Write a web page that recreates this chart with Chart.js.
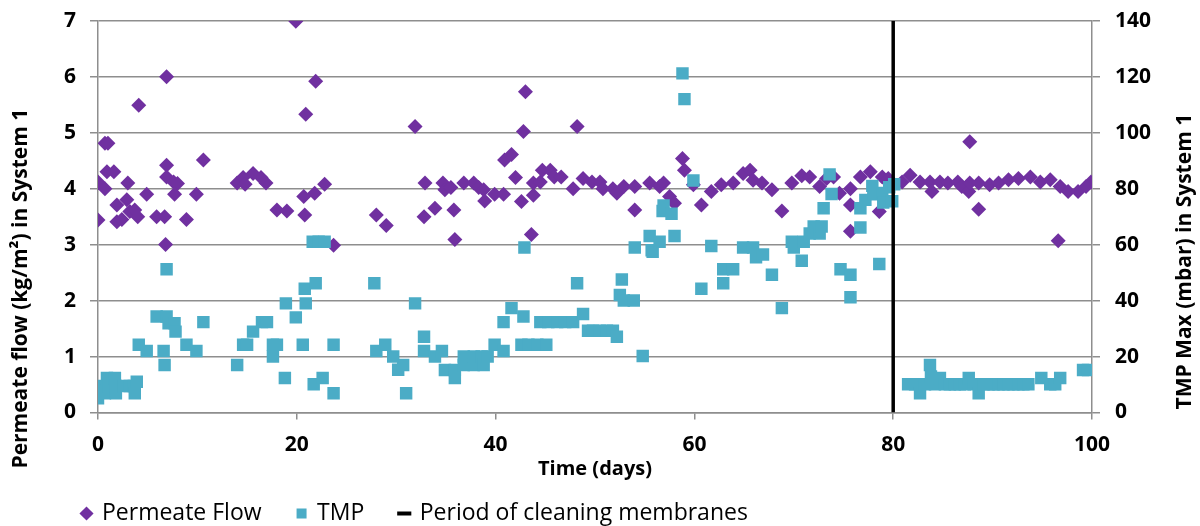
<!DOCTYPE html>
<html>
<head>
<meta charset="utf-8">
<script src="https://cdn.jsdelivr.net/npm/chart.js@4.4.1/dist/chart.umd.min.js"></script>
<style>
  html, body { margin: 0; padding: 0; background: #fff; }
  #wrap { width: 1200px; height: 526px; position: relative; }
</style>
</head>
<body>
<div id="wrap"><canvas id="chart"></canvas></div>
<script>

// Permeate flow (kg/m2), one entry per measurement day
const flowDays = [
  0.0, 0.0, 0.7, 0.7, 1.0, 0.9, 1.6, 1.9, 1.9, 2.4, 2.9, 3.0, 3.2, 3.7, 4.0, 4.1, 4.9, 5.9, 6.7, 6.8,
  6.9, 6.9, 6.9, 7.6, 8.0, 7.7, 8.9, 9.9, 10.6, 14.0, 14.6, 14.8, 15.6, 16.4, 16.9, 18.0, 19.0, 19.9,
  20.7, 20.8, 20.9, 21.8, 21.9, 22.8, 23.7, 28.0, 29.0, 31.9, 32.9, 32.8, 33.9, 34.7, 34.9, 35.5,
  35.8, 35.9, 36.8, 37.8, 38.3, 38.8, 38.9, 39.9, 40.8, 40.9, 41.6, 42.0, 42.6, 42.8, 43.0, 43.6,
  43.8, 43.8, 44.5, 44.7, 45.5, 45.9, 46.6, 47.8, 48.2, 48.8, 49.7, 50.5, 50.8, 51.8, 52.2, 52.9,
  54.0, 54.0, 55.5, 56.5, 56.9, 57.5, 58.0, 58.8, 59.0, 59.9, 60.7, 61.7, 62.7, 63.9, 64.9, 65.6,
  65.9, 66.8, 67.8, 68.8, 69.8, 70.8, 71.6, 72.6, 73.3, 74.0, 74.6, 75.7, 75.7, 75.7, 76.7, 77.7,
  78.6, 78.9, 79.5, 80.9, 81.7, 82.7, 83.7, 83.9, 84.7, 85.5, 86.5, 86.9, 87.6, 87.7, 87.7, 88.6,
  88.6, 89.7, 90.6, 91.6, 92.6, 93.8, 94.8, 95.8, 96.6, 96.8, 97.6, 98.6, 99.4, 99.9
];
const flowValues = [
  3.44, 4.12, 4.00, 4.81, 4.81, 4.30, 4.30, 3.71, 3.41, 3.45, 3.80, 4.10, 3.59, 3.62, 3.50, 5.49, 3.90, 3.50, 3.50, 3.00,
  6.00, 4.42, 4.21, 4.12, 4.09, 3.90, 3.45, 3.90, 4.51, 4.10, 4.20, 4.08, 4.27, 4.20, 4.10, 3.62, 3.60, 6.99,
  3.86, 3.53, 5.33, 3.92, 5.92, 4.08, 2.99, 3.53, 3.34, 5.11, 4.10, 3.50, 3.65, 4.10, 3.98, 4.02,
  3.62, 3.09, 4.10, 4.10, 4.02, 3.98, 3.78, 3.90, 3.90, 4.51, 4.61, 4.20, 3.77, 5.02, 5.73, 3.18,
  4.10, 3.88, 4.12, 4.33, 4.33, 4.21, 4.21, 4.00, 5.11, 4.18, 4.12, 4.12, 4.00, 4.00, 3.92, 4.04,
  4.04, 3.62, 4.10, 4.04, 4.10, 3.86, 3.74, 4.54, 4.33, 4.07, 3.71, 3.95, 4.07, 4.10, 4.27, 4.33,
  4.15, 4.10, 3.98, 3.60, 4.10, 4.23, 4.21, 4.04, 4.18, 4.21, 3.92, 4.00, 3.71, 3.24, 4.21, 4.30,
  3.59, 4.21, 4.18, 4.12, 4.24, 4.12, 4.12, 3.95, 4.12, 4.10, 4.12, 4.04, 3.95, 4.84, 4.10, 4.10,
  3.63, 4.07, 4.10, 4.16, 4.18, 4.21, 4.12, 4.16, 3.07, 4.04, 3.95, 3.95, 4.04, 4.12
];

// TMP Max (mbar)
const tmpDays = [
  0.0, 0.5, 0.7, 0.9, 1.1, 1.7, 1.8, 1.8, 2.6, 3.2, 3.6, 3.7, 3.9, 4.1, 4.9, 5.9, 6.6, 6.7, 6.9, 6.9,
  7.1, 7.7, 7.8, 8.9, 9.9, 10.6, 14.0, 14.6, 15.0, 15.6, 16.5, 17.0, 17.6, 18.0, 17.6, 18.8, 18.9, 19.9,
  20.6, 20.8, 20.9, 21.7, 21.9, 21.6, 22.2, 22.8, 22.6, 23.7, 23.7, 27.8, 28.0, 28.9, 29.7, 30.2, 30.7,
  31.0, 31.9, 32.8, 32.8, 33.9, 34.6, 34.9, 35.9, 35.9, 36.8, 36.8, 37.8, 37.8, 38.6, 38.8, 39.2, 39.9,
  40.8, 40.8, 41.6, 42.6, 42.8, 42.9, 43.3, 44.2, 45.1, 44.5, 45.3, 46.2, 47.0, 47.8, 48.2, 48.8, 49.3,
  49.8, 50.5, 51.2, 51.8, 52.2, 52.5, 52.7, 52.9, 53.9, 54.0, 54.8, 55.5, 55.7, 55.8, 56.5, 56.8, 56.9,
  57.7, 58.0, 58.8, 59.0, 59.9, 60.7, 61.7, 62.9, 62.9, 63.9, 64.9, 65.9, 66.2, 66.9, 67.8, 68.8, 69.8,
  70.0, 70.8, 71.0, 71.6, 72.0, 72.6, 72.8, 73.0, 73.6, 73.8, 74.7, 75.7, 75.7, 76.7, 76.7, 77.2, 77.9,
  78.0, 78.6, 78.9, 79.0, 79.6, 79.9, 80.1, 81.5, 82.2, 82.7, 83.2, 83.7, 83.8, 84.2, 84.7, 85.2, 85.7,
  86.2, 86.7, 87.2, 87.6, 88.1, 88.6, 89.1, 89.6, 90.1, 90.6, 91.1, 91.6, 92.1, 92.6, 93.1, 93.6, 94.9,
  95.8, 96.3, 96.8, 99.1, 99.6
];
const tmpValues = [
  5.1, 9.5, 6.9, 12.3, 9.5, 12.3, 9.5, 6.9, 9.5, 9.5, 9.5, 6.9, 11.0, 24.2, 22.0, 34.3, 22.0, 17.0, 51.2, 34.3,
  31.9, 31.9, 28.9, 24.2, 22.0, 32.3, 17.0, 24.2, 24.2, 28.9, 32.3, 32.3, 24.2, 24.2, 20.0, 12.3, 39.0, 34.0,
  24.2, 44.2, 39.0, 10.1, 46.2, 61.0, 61.0, 61.0, 12.3, 24.2, 6.9, 46.2, 22.0, 24.2, 20.0, 15.3, 17.0,
  6.9, 39.0, 27.1, 22.0, 20.0, 22.0, 15.2, 15.2, 12.3, 20.0, 17.0, 20.0, 17.0, 20.0, 17.0, 20.0, 24.2,
  22.0, 32.3, 37.3, 24.2, 34.3, 59.0, 24.2, 24.2, 24.2, 32.3, 32.3, 32.3, 32.3, 32.3, 46.2, 35.2, 29.2,
  29.2, 29.2, 29.2, 29.2, 27.1, 42.0, 47.5, 40.0, 40.0, 59.0, 20.2, 63.1, 58.0, 57.4, 61.0, 72.0, 74.0,
  71.0, 63.1, 121.2, 112.0, 82.9, 44.2, 59.5, 51.2, 46.2, 51.2, 59.0, 59.0, 55.5, 56.5, 49.2, 37.3, 61.0,
  59.0, 54.2, 61.0, 64.0, 66.5, 64.0, 66.5, 73.0, 85.1, 78.1, 51.2, 49.2, 41.2, 73.0, 66.1, 76.0, 81.0,
  78.0, 53.1, 78.5, 75.0, 80.5, 75.5, 81.6, 10.1, 10.1, 6.9, 10.1, 17.0, 12.9, 10.1, 12.3, 10.1, 10.1,
  10.1, 10.1, 10.1, 12.3, 10.1, 6.9, 10.1, 10.1, 10.1, 10.1, 10.1, 10.1, 10.1, 10.1, 10.1, 10.1, 12.3,
  10.1, 10.1, 12.3, 15.2, 15.2
];

// membrane cleaning marker: day and the flow range it spans
const cleaningDays = [80, 80];
const cleaningSpan = [0, 7];

const xTicks = [0, 20, 40, 60, 80, 100];
const flowTicks = [0, 1, 2, 3, 4, 5, 6, 7];
const tmpTicks = [0, 20, 40, 60, 80, 100, 120, 140];

const leftTitle = 'Permeate flow (kg/m\u00B2) in System 1';
const rightTitle = 'TMP Max (mbar) in System 1';
const bottomTitle = 'Time (days)';

const FONT = '"Open Sans", "DejaVu Sans", sans-serif';
const GRID = '#8e8e8e';

const toPoints = (xs, ys) => xs.map((x, i) => ({ x: x, y: ys[i] }));

// axis titles drawn by hand so they can sit where the layout wants them
const axisTitles = {
  id: 'axisTitles',
  afterDraw(chart) {
    const { ctx, chartArea } = chart;
    const mid = (chartArea.top + chartArea.bottom) / 2;
    ctx.save();
    ctx.fillStyle = '#000';
    ctx.textAlign = 'center';
    ctx.textBaseline = 'middle';
    ctx.font = 'bold 21px ' + FONT;

    ctx.save();
    ctx.translate(21, mid + 72);
    ctx.rotate(-Math.PI / 2);
    ctx.fillText(leftTitle, 0, 0);
    ctx.restore();

    ctx.save();
    ctx.translate(1185, mid + 45);
    ctx.rotate(-Math.PI / 2);
    ctx.fillText(rightTitle, 0, 0);
    ctx.restore();

    ctx.font = 'bold 20px ' + FONT;
    ctx.fillText(bottomTitle, (chartArea.left + chartArea.right) / 2, chartArea.bottom + 57);
    ctx.restore();
  }
};

const tickFont = { family: FONT, size: 21, weight: 'bold' };
const sideTickFont = { family: FONT, size: 21, weight: 'bold', lineHeight: 0.55 };

const canvas = document.getElementById('chart');

new Chart(canvas, {
  type: 'scatter',
  data: {
    datasets: [
      {
        label: 'Permeate Flow',
        data: toPoints(flowDays, flowValues),
        yAxisID: 'y',
        pointStyle: 'rectRot',
        pointRadius: 7.5,
        pointHoverRadius: 7.5,
        pointBorderWidth: 0,
        backgroundColor: '#7030A0',
        borderColor: '#7030A0',
        order: 3
      },
      {
        label: 'TMP',
        data: toPoints(tmpDays, tmpValues),
        yAxisID: 'y1',
        pointStyle: 'rect',
        pointRadius: 8.8,
        pointHoverRadius: 8.8,
        pointBorderWidth: 0,
        backgroundColor: '#4BACC6',
        borderColor: '#4BACC6',
        order: 2
      },
      {
        label: 'Period of cleaning membranes',
        data: toPoints(cleaningDays, cleaningSpan),
        yAxisID: 'y',
        showLine: true,
        borderColor: '#000',
        backgroundColor: '#000',
        borderWidth: 3.5,
        pointRadius: 0,
        pointStyle: 'line',
        pointBorderWidth: 4,
        pointBorderColor: '#000',
        order: 1
      }
    ]
  },
  options: {
    responsive: true,
    maintainAspectRatio: false,
    animation: false,
    layout: {
      padding: { left: 46.5, right: 0, top: 0, bottom: -9 }
    },
    scales: {
      x: {
        type: 'linear',
        min: 0,
        max: 100,
        afterBuildTicks: (axis) => { axis.ticks = xTicks.map(v => ({ value: v })); },
        afterFit: (axis) => { axis.height = 53.5; },
        ticks: {
          color: '#000',
          font: tickFont,
          padding: 13
        },
        grid: {
          drawOnChartArea: false,
          drawTicks: true,
          tickLength: 7,
          color: GRID,
          lineWidth: 1.5
        },
        border: { color: GRID, width: 1.5 }
      },
      y: {
        position: 'left',
        min: 0,
        max: 7,
        afterBuildTicks: (axis) => { axis.ticks = flowTicks.map(v => ({ value: v })); },
        afterFit: (axis) => { axis.width = 51.5; },
        ticks: {
          color: '#000',
          font: sideTickFont,
          padding: 14
        },
        grid: {
          color: GRID,
          lineWidth: 1.5,
          tickLength: 8
        },
        border: { color: GRID, width: 1.5 }
      },
      y1: {
        position: 'right',
        min: 0,
        max: 140,
        afterBuildTicks: (axis) => { axis.ticks = tmpTicks.map(v => ({ value: v })); },
        afterFit: (axis) => { axis.width = 108; },
        ticks: {
          color: '#000',
          font: sideTickFont,
          padding: 15
        },
        grid: {
          drawOnChartArea: false,
          color: GRID,
          lineWidth: 1.5,
          tickLength: 8
        },
        border: { color: GRID, width: 1.5 }
      }
    },
    plugins: {
      legend: {
        position: 'bottom',
        align: 'start',
        labels: {
          usePointStyle: true,
          boxWidth: 8,
          boxHeight: 10,
          padding: 36,
          color: '#000',
          font: { family: FONT, size: 23 },
          sort: (a, b) => a.datasetIndex - b.datasetIndex
        }
      },
      tooltip: { enabled: false }
    }
  },
  plugins: [axisTitles]
});
</script>
</body>
</html>
